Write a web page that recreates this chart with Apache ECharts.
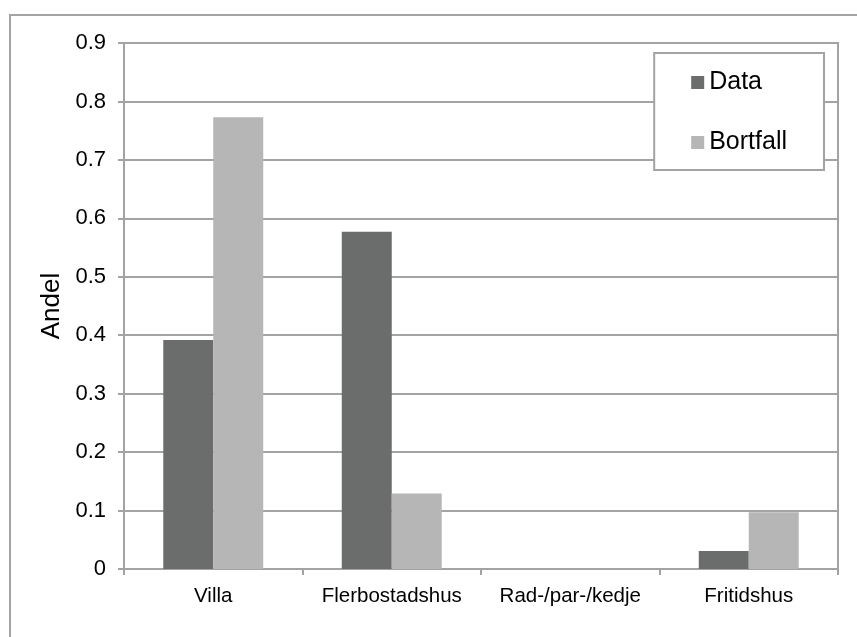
<!DOCTYPE html>
<html>
<head>
<meta charset="utf-8">
<script src="https://cdn.jsdelivr.net/npm/echarts@6/dist/echarts.min.js"></script>
<style>
  html, body { margin: 0; padding: 0; background: #fff; }
  #m1 { width: 857px; height: 637px; }
</style>
</head>
<body>
<div id="m1"></div>
<script>
// kategorier och andelar
var categories = ['Villa', 'Flerbostadshus', 'Rad-/par-/kedje', 'Fritidshus'];
var dataValues = [0.392, 0.577, 0, 0.031];
var bortfallValues = [0.773, 0.129, 0, 0.097];
var yTicks = [0, 0.1, 0.2, 0.3, 0.4, 0.5, 0.6, 0.7, 0.8, 0.9];

initBar();

function initBar(){
    var myChart = echarts.init(document.getElementById('m1'));
    var gray = '#a3a3a3';
    var option = {
        animation: false,
        textStyle: { fontFamily: 'Liberation Sans, Arial, sans-serif' },
        graphic: [{
            type: 'rect',
            shape: { x: 10, y: 15, width: 870, height: 660 },
            style: { fill: 'none', stroke: gray, lineWidth: 2 },
            silent: true
        }],
        grid: {
            left: 124, right: 19, top: 43, bottom: 68,
            show: true, borderColor: gray, borderWidth: 2,
            backgroundColor: 'transparent'
        },
        legend: {
            data: ['Data', 'Bortfall'],
            orient: 'vertical',
            right: 33, top: 53,
            padding: [17, 37, 15, 37],
            itemGap: 35,
            itemWidth: 13, itemHeight: 13,
            icon: 'rect',
            backgroundColor: '#fff',
            borderColor: gray, borderWidth: 2,
            textStyle: { fontSize: 25, lineHeight: 24, color: '#000' }
        },
        xAxis: {
            type: 'category',
            data: categories,
            axisLine: { lineStyle: { color: gray, width: 2 } },
            axisTick: { show: true, interval: 0, length: 6, lineStyle: { color: gray, width: 2 } },
            axisLabel: { interval: 0, hideOverlap: false, fontSize: 20.5, color: '#000', margin: 17 },
            splitLine: { show: false }
        },
        yAxis: {
            type: 'value',
            min: yTicks[0], max: yTicks[yTicks.length - 1], interval: 0.1,
            name: 'Andel',
            nameLocation: 'middle',
            nameGap: 56,
            nameTextStyle: { fontSize: 26, color: '#000' },
            axisLine: { show: true, lineStyle: { color: gray, width: 2 } },
            axisTick: { show: true, length: 6, lineStyle: { color: gray, width: 2 } },
            axisLabel: {
                fontSize: 22, color: '#000', margin: 18,
                formatter: function (v) { return +v.toFixed(1) + ''; }
            },
            splitLine: { lineStyle: { color: gray, width: 2 } }
        },
        series: [{
            name: 'Data',
            type: 'bar',
            data: dataValues,
            barGap: '0%',
            barCategoryGap: '44%',
            itemStyle: { color: '#6b6d6c' }
        }, {
            name: 'Bortfall',
            type: 'bar',
            data: bortfallValues,
            itemStyle: { color: '#b5b6b5' }
        }]
    };
    myChart.setOption(option);
}
</script>
</body>
</html>
